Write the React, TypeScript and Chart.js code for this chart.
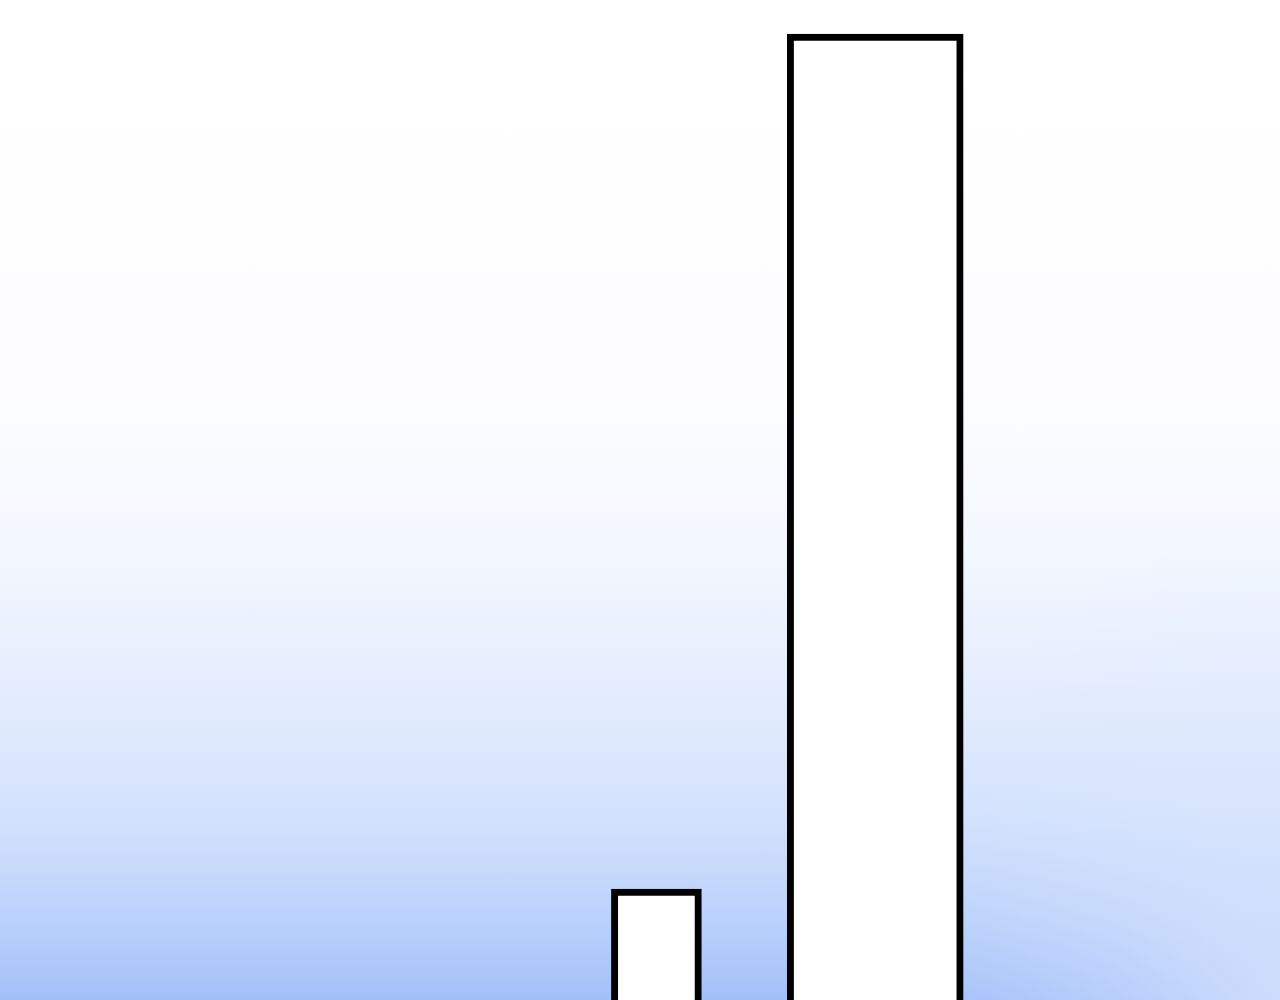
import React, { useRef, useEffect } from "react";
import Chart from "chart.js/auto";

// two bars standing on the bottom edge, no axes or labels
const barNames = ["small", "tall"];
const barPositions = [3, 4];
const barValues = [11.1, 96.6];
const barWidths = [90, 176];

const App: React.FC = () => {
  const chartRef = useRef<HTMLCanvasElement | null>(null);
  const chartInstance = useRef<Chart | null>(null);

  useEffect(() => {
    if (chartInstance.current) {
      chartInstance.current.destroy();
    }

    if (chartRef.current) {
      const ctx = chartRef.current.getContext("2d");
      chartInstance.current = new Chart(ctx!, {
        type: "bar",
        data: {
          datasets: barNames.map((name, i) => ({
            label: name,
            data: [{ x: barPositions[i], y: barValues[i] }],
            backgroundColor: "#ffffff",
            borderColor: "#000000",
            borderWidth: 7,
            borderSkipped: "start",
            barThickness: barWidths[i],
            grouped: false,
          })),
        },
        options: {
          responsive: false,
          animation: false,
          layout: { padding: 0 },
          plugins: {
            legend: { display: false },
            tooltip: { enabled: false },
          },
          scales: {
            x: { type: "linear", display: false, offset: false, min: 0, max: 5.85 },
            y: { display: false, min: 0, max: 100 },
          },
        },
      });
    }

    return () => {
      if (chartInstance.current) {
        chartInstance.current.destroy();
        chartInstance.current = null;
      }
    };
  }, []);

  return (
    <div
      style={{
        position: "absolute",
        top: 0,
        left: 0,
        width: 1280,
        height: 1000,
        background:
          "radial-gradient(ellipse 380px 480px at 100% 100%, rgba(222,232,253,0.7) 0%, rgba(222,232,253,0.35) 45%, rgba(222,232,253,0) 100%), " +
          "linear-gradient(to bottom, #ffffff 0%, #fdfdff 38%, #f3f7fe 55%, #e3ecfd 70%, #d2e1fc 82%, #bdd3fb 91%, #a2c0f9 100%)",
      }}
    >
      <canvas ref={chartRef} width="1280" height="1000" style={{ display: "block" }}></canvas>
    </div>
  );
};

export default App;
